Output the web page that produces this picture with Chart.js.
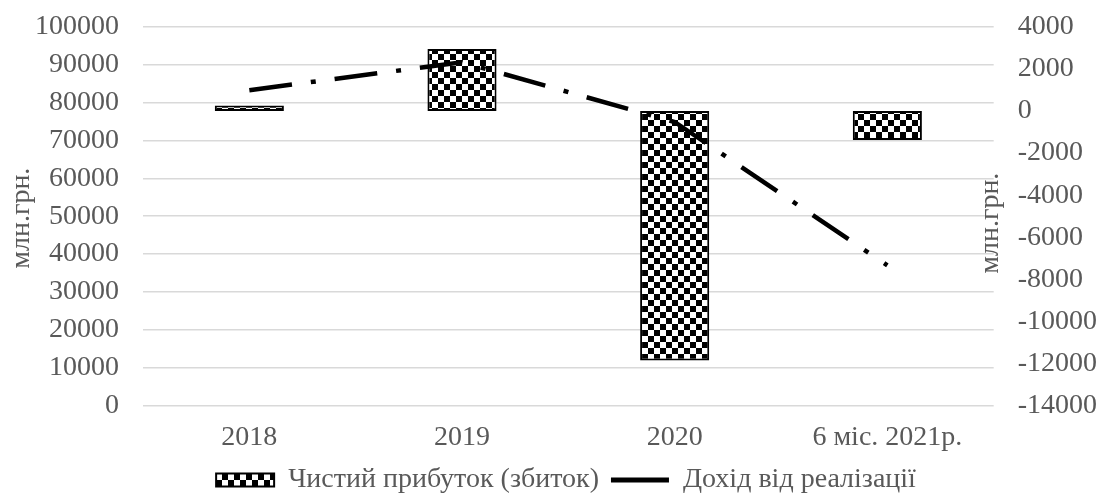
<!DOCTYPE html>
<html>
<head>
<meta charset="utf-8">
<script src="https://cdn.jsdelivr.net/npm/chart.js@4/dist/chart.umd.min.js"></script>
<style>
  html, body { margin: 0; padding: 0; background: #fff; }
  #wrap { width: 1100px; height: 494px; }
</style>
</head>
<body>
<div id="wrap"><canvas id="chart"></canvas></div>
<script>
const categories = ['2018', '2019', '2020', '6 міс. 2021р.'];
const netProfit = [260, 2950, -11860, -1380];     // Чистий прибуток (збиток), права вісь
const revenue = [83300, 90700, 74900, 37000];     // Дохід від реалізації, ліва вісь
const leftTicks = [0, 100000, 10000];             // min, max, step
const rightTicks = [-14000, 4000, 2000];

const textColor = '#595959';
const fontFamily = "'Liberation Serif', 'Times New Roman', serif";
const tickPad = 24;

// checkered fill like the original
function makeChecker() {
    const c = document.createElement('canvas');
    c.width = 12;
    c.height = 12;
    const g = c.getContext('2d');
    g.fillStyle = '#ffffff';
    g.fillRect(0, 0, 12, 12);
    g.fillStyle = '#000000';
    g.fillRect(0, 0, 6, 6);
    g.fillRect(6, 6, 6, 6);
    return g.createPattern(c, 'repeat');
}
const checker = makeChecker();

// both axis titles: the right one sits between plot and its labels
function drawVertical(ctx, text, x, y) {
    ctx.save();
    ctx.translate(x, y);
    ctx.rotate(-Math.PI / 2);
    ctx.font = `28px ${fontFamily}`;
    ctx.fillStyle = textColor;
    ctx.textAlign = 'center';
    ctx.textBaseline = 'middle';
    ctx.fillText(text, 0, 0);
    ctx.restore();
}
const axisTitles = {
    id: 'axisTitles',
    afterDraw(chart) {
        const area = chart.chartArea;
        const mid = (area.top + area.bottom) / 2;
        drawVertical(chart.ctx, 'млн.грн.', 22, mid + 2);
        drawVertical(chart.ctx, 'млн.грн.', area.right - 3, mid + 7);
    }
};

// drop the outer tick padding and the tall label overhang
function trimY(scale) {
    scale.width -= tickPad;
    scale.paddingTop = 17;
    scale.paddingBottom = 17;
}

new Chart(document.getElementById('chart'), {
    type: 'bar',
    data: {
        labels: categories,
        datasets: [{
            type: 'bar',
            label: 'Чистий прибуток (збиток)',
            data: netProfit,
            yAxisID: 'y1',
            backgroundColor: checker,
            borderColor: '#000000',
            borderWidth: 2,
            borderSkipped: false,
            categoryPercentage: 1,
            barPercentage: 0.325,
            order: 2
        }, {
            type: 'line',
            label: 'Дохід від реалізації',
            data: revenue,
            yAxisID: 'y',
            borderColor: '#000000',
            backgroundColor: '#000000',
            borderWidth: 4.5,
            borderDash: [43, 19, 5, 19],
            pointRadius: 0,
            tension: 0,
            fill: false,
            order: 1
        }]
    },
    options: {
        responsive: true,
        maintainAspectRatio: false,
        animation: false,
        layout: { padding: { top: 27, right: 3, bottom: -10, left: 35 } },
        plugins: {
            tooltip: { enabled: false },
            legend: {
                position: 'bottom',
                labels: {
                    sort: (a, b) => a.datasetIndex - b.datasetIndex,
                    usePointStyle: true,
                    pointStyleWidth: 58,
                    boxHeight: 13,
                    padding: 12,
                    color: textColor,
                    font: { family: fontFamily, size: 28 },
                    generateLabels(chart) {
                        const items = Chart.defaults.plugins.legend.labels.generateLabels(chart);
                        items.forEach(item => {
                            if (item.datasetIndex === 0) {
                                item.pointStyle = 'rect';
                                item.lineWidth = 2;
                            } else {
                                item.pointStyle = 'line';
                                item.lineDash = [];
                                item.lineWidth = 5;
                            }
                        });
                        return items;
                    }
                }
            }
        },
        scales: {
            x: {
                grid: { display: false, drawTicks: false },
                border: { display: false },
                ticks: { color: textColor, font: { family: fontFamily, size: 28 }, padding: 15, maxRotation: 0, autoSkip: false },
                afterFit(scale) { scale.height -= 15; }
            },
            y: {
                position: 'left',
                min: leftTicks[0],
                max: leftTicks[1],
                ticks: {
                    stepSize: leftTicks[2],
                    autoSkip: false,
                    color: textColor,
                    padding: tickPad,
                    font: { family: fontFamily, size: 28 },
                    callback: v => String(v)
                },
                grid: { color: '#d9d9d9', lineWidth: 1.5, drawTicks: false },
                border: { display: false },
                afterFit: trimY
            },
            y1: {
                position: 'right',
                min: rightTicks[0],
                max: rightTicks[1],
                ticks: {
                    stepSize: rightTicks[2],
                    autoSkip: false,
                    color: textColor,
                    padding: tickPad,
                    font: { family: fontFamily, size: 28 },
                    callback: v => String(v)
                },
                grid: { display: false, drawTicks: false },
                border: { display: false },
                afterFit: trimY
            }
        }
    },
    plugins: [axisTitles]
});
</script>
</body>
</html>
